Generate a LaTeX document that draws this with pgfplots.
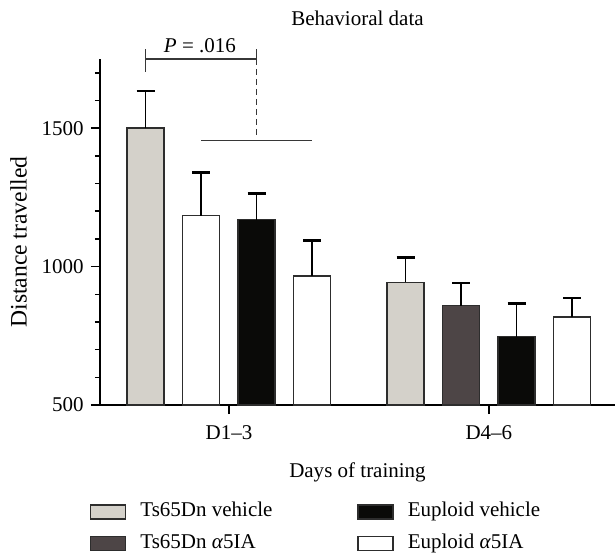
\documentclass[border=0pt]{standalone}
\usepackage{fontspec}
\setmainfont{Liberation Serif}
\usepackage{pgfplots}
\pgfplotsset{compat=1.18}
\usetikzlibrary{calc}

\definecolor{tsveh}{RGB}{212,209,202}
\definecolor{tsalpha}{RGB}{77,69,70}
\definecolor{euveh}{RGB}{10,10,8}
\definecolor{edge}{RGB}{45,45,45}
\definecolor{annot}{RGB}{55,55,55}

\pgfplotsset{
  errb/.style={error bars/.cd, y dir=plus, y explicit,
    error bar style={line width=0.8pt, black},
    error mark options={rotate=90, mark size=4.5pt, line width=1.1pt, black}},
  barsty/.style={fill=#1, draw=edge, line width=0.8pt, forget plot},
  legbox/.style={fill=#1, draw=edge, line width=0.7pt,
    legend image code/.code={\draw[##1] (0pt,-3.5pt) rectangle (17.5pt,3.5pt);}},
}

\begin{document}
\fontsize{10.5}{12.6}\selectfont
\begin{tikzpicture}[font=\fontsize{10.5}{12.6}\selectfont]
\begin{axis}[
  name=ax,
  scale only axis, width=257.5pt, height=173pt,
  xmin=-0.496, xmax=1.485, ymin=500, ymax=1750,
  axis x line=bottom, axis y line=left,
  axis line style={-, line width=0.75pt},
  tick align=outside, major tick length=4.5pt, minor tick length=2.5pt,
  tick style={line width=0.75pt, black},
  xtick={0,1}, xticklabels={D1--3, D4--6},
  xticklabel style={yshift=-2pt},
  ytick={500,1000,1500}, minor ytick={600,700,...,1700},
  /pgf/number format/assume math mode=true,
  /pgf/number format/1000 sep={},
  ybar, bar width=18.5pt,
  title={Behavioral data},
  title style={at={(axis description cs:0.5,1)}, anchor=base, yshift=10.5pt},
  xlabel={Days of training},
  xlabel style={at={(axis description cs:0.5,0)}, anchor=base, yshift=-36pt},
  ylabel={Distance travelled},
  ylabel style={at={(axis description cs:-0.158,0.471)}, anchor=center,
    font=\fontsize{11.8}{14}\selectfont},
  legend columns=2,
  legend cell align=left,
  legend style={draw=none, fill=none, at={(axis description cs:-0.0194,-0.283)},
    anchor=north west, inner sep=0pt, outer sep=0pt, column sep=7pt, row sep=6.8pt,
    nodes={inner sep=0pt, text height=7pt, text depth=2pt}},
]
% Ts65Dn vehicle
\addplot[barsty=tsveh, bar shift=-41.625pt, errb] coordinates {(0,1500) +- (0,133) (1,943) +- (0,90)};
% Ts65Dn a5IA (drawn white in D1-3)
\addplot[barsty=white, bar shift=-13.875pt, errb] coordinates {(0,1184) +- (0,156)};
\addplot[barsty=tsalpha, bar shift=-13.875pt, errb] coordinates {(1,859) +- (0,81)};
% Euploid vehicle
\addplot[barsty=euveh, bar shift=13.875pt, errb] coordinates {(0,1170) +- (0,94) (1,747) +- (0,120)};
% Euploid a5IA
\addplot[barsty=white, bar shift=41.625pt, errb] coordinates {(0,967) +- (0,127) (1,817) +- (0,71)};

\addlegendimage{legbox=tsveh}
\addlegendentry{\makebox[101.5pt][l]{Ts65Dn vehicle}}
\addlegendimage{legbox=euveh}
\addlegendentry{Euploid vehicle}
\addlegendimage{legbox=tsalpha}
\addlegendentry{\makebox[101.5pt][l]{Ts65Dn \textit{α}5IA}}
\addlegendimage{legbox=white}
\addlegendentry{Euploid \textit{α}5IA}

\coordinate (l1) at (axis cs:-0.3202,1785);
\coordinate (l2) at (axis cs:-0.3202,1702);
\coordinate (r1) at (axis cs:0.1067,1785);
\coordinate (rm) at (axis cs:0.1067,1750);
\coordinate (r2) at (axis cs:0.1067,1470);
\coordinate (h1) at (axis cs:-0.1067,1455);
\coordinate (h2) at (axis cs:0.3202,1455);
\coordinate (ptxt) at (axis cs:-0.1115,1774);
\end{axis}
\draw[annot, line width=0.6pt] (l1) -- (l2);
\draw[annot, line width=0.6pt] (l1|-rm) -- (rm);
\draw[annot, line width=0.6pt] (r1) -- (rm);
\draw[annot, line width=0.6pt, dash pattern=on 3pt off 2pt] (rm) -- (r2);
\draw[annot, line width=0.6pt] (h1) -- (h2);
\node[anchor=base] at (ptxt) {\textit{P} = .016};
\pgfresetboundingbox
\path[use as bounding box] ($(ax.south west)+(-50pt,-73.5pt)$) rectangle ($(ax.south west)+(257.5pt,202.5pt)$);
\end{tikzpicture}
\end{document}
